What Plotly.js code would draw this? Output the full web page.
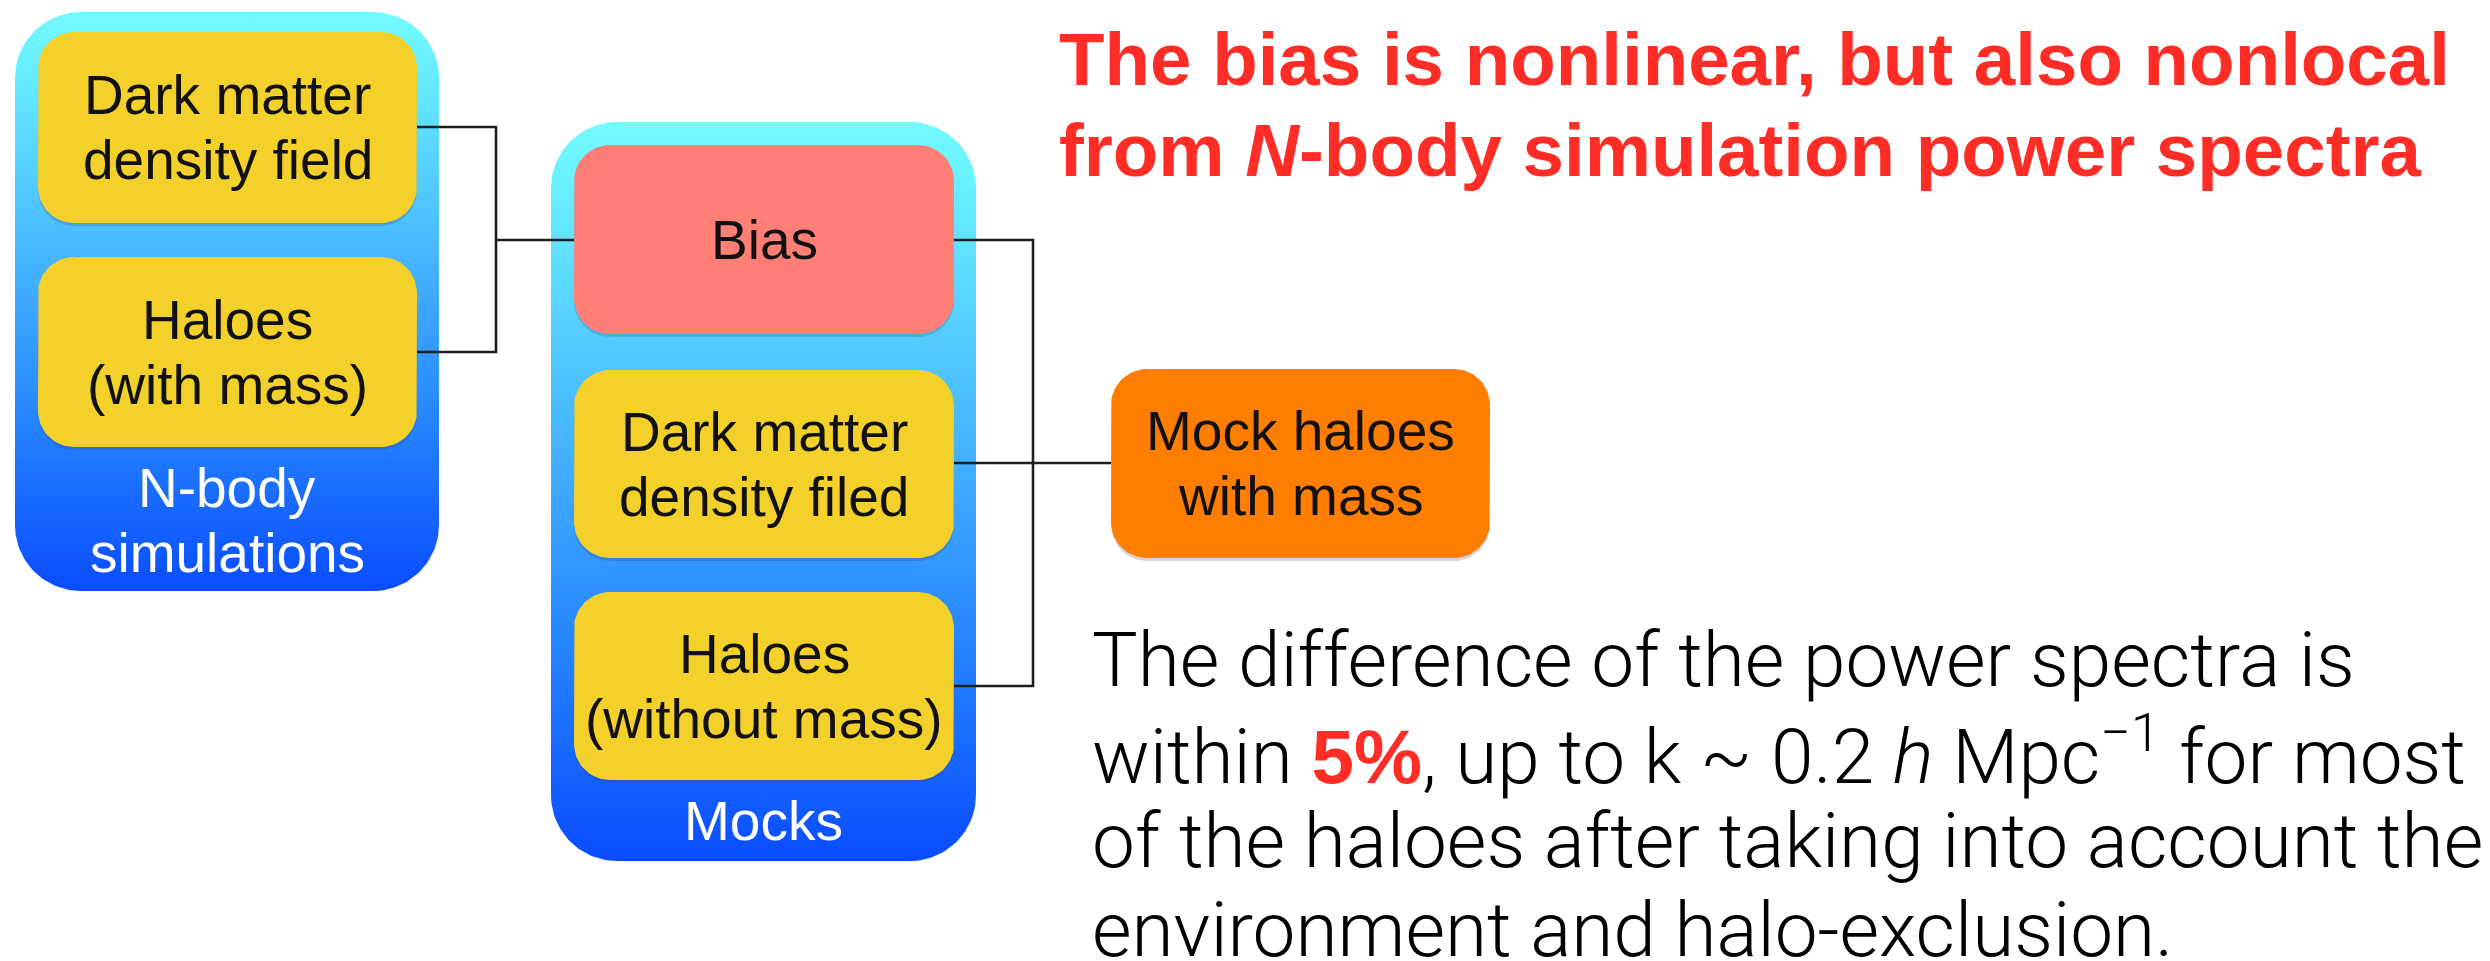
<!DOCTYPE html>
<html>
<head>
<meta charset="utf-8">
<script src="https://cdn.plot.ly/plotly-3.0.1.min.js"></script>
<style>html,body{margin:0;padding:0;background:#fff;}#chart{width:2490px;height:961px;}</style>
</head>
<body>
<div id="chart"></div>
<script>
// ---------- text content (data) ----------
const nbodyLabels = [["Dark matter", "density field"], ["Haloes", "(with mass)"]];
const mockLabels = [["Bias"], ["Dark matter", "density filed"], ["Haloes", "(without mass)"]];
const groupLabels = [["N-body", "simulations"], ["Mocks"]];
const outputLabels = [["Mock haloes", "with mass"]];
const headlineLines = [
  "The bias is nonlinear, but also nonlocal",
  "from <i>N</i>-body simulation power spectra"
];
const noteLines = [
  "The difference of the power spectra is",
  "within <span style=\"color:#FF2D26;font-weight:700;font-family:'Liberation Sans'\">5%</span>, up to k ~ 0.2 <i>h</i> Mpc<sup>\u22121</sup> for most",
  "of the haloes after taking into account the",
  "environment and halo-exclusion."
];

// ---------- geometry / style (layout) ----------
const G = {
  groups: [
    {x0: 15, x1: 439, y0: 12, y1: 591, r: 66, labelY: 520},
    {x0: 551, x1: 976, y0: 122, y1: 861, r: 66, labelY: 821}
  ],
  nbodyBoxes: [
    {x0: 38, x1: 417, y0: 32, y1: 223, fill: "#F4D12A"},
    {x0: 38, x1: 417, y0: 257, y1: 447, fill: "#F4D12A"}
  ],
  mockBoxes: [
    {x0: 574, x1: 954, y0: 145, y1: 334, fill: "#FF7F77"},
    {x0: 574, x1: 954, y0: 370, y1: 558, fill: "#F4D12A"},
    {x0: 574, x1: 954, y0: 592, y1: 780, fill: "#F4D12A"}
  ],
  outputBoxes: [
    {x0: 1111, x1: 1490, y0: 369, y1: 558, fill: "#FF7D00"}
  ],
  innerR: 36,
  lineGap: 65,
  labelSize: 55,
  headline: {x: 1057, y: [59, 150], size: 74.5, color: "#FF2D26"},
  note: {x: 1090, y: [660, 751, 841, 930], size: 76.5, color: "#000"},
  connectors: [
    [[417, 127], [496, 127], [496, 352], [417, 352]],
    [[496, 240], [574, 240]],
    [[954, 240], [1033, 240], [1033, 686], [954, 686]],
    [[954, 463], [1111, 463]]
  ]
};

function roundedRect(x0, y0, x1, y1, r, n) {
  n = n || 20;
  const xs = [], ys = [];
  const corners = [
    [x1 - r, y0 + r, -Math.PI / 2, 0],
    [x1 - r, y1 - r, 0, Math.PI / 2],
    [x0 + r, y1 - r, Math.PI / 2, Math.PI],
    [x0 + r, y0 + r, Math.PI, 1.5 * Math.PI]
  ];
  corners.forEach(function (c) {
    for (let i = 0; i <= n; i++) {
      const a = c[2] + (c[3] - c[2]) * i / n;
      xs.push(c[0] + r * Math.cos(a));
      ys.push(c[1] + r * Math.sin(a));
    }
  });
  xs.push(xs[0]); ys.push(ys[0]);
  return {x: xs, y: ys};
}

const traces = [];
const font = "Liberation Sans, Arial, Helvetica, sans-serif";
const lightFont = "Roboto, Liberation Sans, Arial, sans-serif";

// outer gradient group boxes
G.groups.forEach(function (g) {
  const p = roundedRect(g.x0, g.y0, g.x1, g.y1, g.r, 30);
  traces.push({
    type: "scatter", mode: "lines", x: p.x, y: p.y, fill: "toself",
    line: {width: 0, color: "rgba(0,0,0,0)"},
    fillgradient: {
      type: "vertical", start: g.y0, stop: g.y1,
      colorscale: [[0, "#72FBFF"], [0.12, "#66EAFF"], [0.42, "#47B6FF"], [0.72, "#2482FF"], [1, "#0A4CFF"]]
    },
    hoverinfo: "skip", showlegend: false
  });
});

// inner boxes (with soft shadow)
const allBoxes = G.nbodyBoxes.concat(G.mockBoxes, G.outputBoxes);
allBoxes.forEach(function (b) {
  const s = roundedRect(b.x0, b.y0 + 2, b.x1, b.y1 + 3, G.innerR, 20);
  traces.push({
    type: "scatter", mode: "lines", x: s.x, y: s.y, fill: "toself",
    fillcolor: "rgba(60,60,90,0.22)", line: {width: 0, color: "rgba(0,0,0,0)"},
    hoverinfo: "skip", showlegend: false
  });
  const p = roundedRect(b.x0, b.y0, b.x1, b.y1, G.innerR, 20);
  traces.push({
    type: "scatter", mode: "lines", x: p.x, y: p.y, fill: "toself",
    fillcolor: b.fill, line: {width: 0, color: "rgba(0,0,0,0)"},
    hoverinfo: "skip", showlegend: false
  });
});

// connector lines
const shapes = [];
G.connectors.forEach(function (pts) {
  let d = "M " + pts[0][0] + "," + pts[0][1];
  for (let i = 1; i < pts.length; i++) d += " L " + pts[i][0] + "," + pts[i][1];
  shapes.push({type: "path", xref: "x", yref: "y", path: d, line: {color: "#1e1e1e", width: 2.6}, layer: "above"});
});

// annotations
const annotations = [];
function boxText(lines, b, color) {
  const cx = (b.x0 + b.x1) / 2, cy = (b.y0 + b.y1) / 2;
  lines.forEach(function (t, i) {
    annotations.push({
      x: cx, y: cy + (i - (lines.length - 1) / 2) * G.lineGap, xref: "x", yref: "y",
      text: t, showarrow: false, xanchor: "center", yanchor: "middle",
      font: {family: font, size: G.labelSize, color: color}
    });
  });
}
nbodyLabels.forEach(function (l, i) { boxText(l, G.nbodyBoxes[i], "#111"); });
mockLabels.forEach(function (l, i) { boxText(l, G.mockBoxes[i], "#111"); });
outputLabels.forEach(function (l, i) { boxText(l, G.outputBoxes[i], "#111"); });
groupLabels.forEach(function (l, i) {
  const g = G.groups[i];
  boxText(l, {x0: g.x0, x1: g.x1, y0: g.labelY, y1: g.labelY}, "#ffffff");
});
headlineLines.forEach(function (t, i) {
  annotations.push({
    x: G.headline.x, y: G.headline.y[i], xref: "x", yref: "y",
    text: "<b>" + t + "</b>", showarrow: false, xanchor: "left", yanchor: "middle",
    font: {family: font, size: G.headline.size, color: G.headline.color}
  });
});
noteLines.forEach(function (t, i) {
  annotations.push({
    x: G.note.x, y: G.note.y[i], xref: "x", yref: "y",
    text: t, showarrow: false, xanchor: "left", yanchor: "middle",
    font: {family: lightFont, size: G.note.size, color: G.note.color, weight: 300}
  });
});

const layout = {
  width: 2490, height: 961,
  margin: {l: 0, r: 0, t: 0, b: 0, pad: 0},
  paper_bgcolor: "#ffffff", plot_bgcolor: "#ffffff",
  xaxis: {range: [0, 2490], visible: false, fixedrange: true},
  yaxis: {range: [961, 0], visible: false, fixedrange: true},
  shapes: shapes, annotations: annotations, showlegend: false
};

Plotly.newPlot("chart", traces, layout, {displayModeBar: false, staticPlot: true});
</script>
</body>
</html>
